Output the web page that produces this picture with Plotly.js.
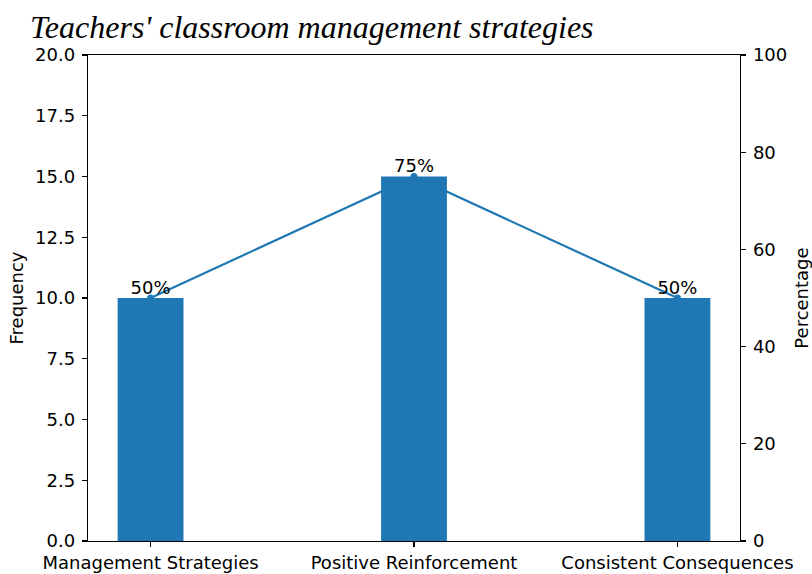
<!DOCTYPE html>
<html>
<head>
<meta charset="utf-8">
<script src="https://cdn.plot.ly/plotly-3.0.1.min.js"></script>
<style>html,body{margin:0;padding:0;background:#fff;}#chart{width:812px;height:574px;}</style>
</head>
<body>
<div id="chart"></div>
<script>
const categories = ["Management Strategies", "Positive Reinforcement", "Consistent Consequences"];
const frequency = [10, 15, 10];
const percentage = [50, 75, 50];
const percentLabels = ["50%", "75%", "50%"];
const freqTicks = [0, 2.5, 5, 7.5, 10, 12.5, 15, 17.5, 20];
const pctTicks = [0, 20, 40, 60, 80, 100];

const blue = "#1f77b4";
const font = {family: "DejaVu Sans", size: 18, color: "#000"};

const lineTrace = {
  type: "scatter",
  mode: "lines+markers",
  x: categories,
  y: percentage,
  xaxis: "x",
  yaxis: "y",
  line: {color: blue, width: 2.2},
  marker: {color: blue, size: 7},
  cliponaxis: false,
  hoverinfo: "skip"
};

const textTrace = {
  type: "scatter",
  mode: "text",
  x: categories,
  y: percentage,
  xaxis: "x",
  yaxis: "y",
  text: percentLabels,
  textposition: "top center",
  textfont: {family: "DejaVu Sans", size: 18, color: "#000"},
  cliponaxis: false,
  hoverinfo: "skip"
};

const barTrace = {
  type: "bar",
  x: categories,
  y: frequency,
  xaxis: "x",
  yaxis: "y2",
  width: 0.25,
  marker: {color: blue, line: {width: 0}},
  hoverinfo: "skip"
};

const axisCommon = {
  showline: true,
  linecolor: "#000",
  linewidth: 1.3,
  ticks: "outside",
  ticklen: 5,
  tickwidth: 1.3,
  tickcolor: "#000",
  showgrid: false,
  zeroline: false,
  tickfont: font
};

const layout = {
  width: 812,
  height: 574,
  margin: {l: 88, r: 72, t: 55, b: 33},
  paper_bgcolor: "#fff",
  plot_bgcolor: "#fff",
  showlegend: false,
  font: font,
  title: {
    text: "Teachers' classroom management strategies",
    font: {family: "Liberation Serif", size: 32, color: "#000", style: "italic"},
    x: 30 / 812,
    xanchor: "left",
    xref: "container",
    yref: "container",
    y: 1 - 27 / 574,
    yanchor: "middle"
  },
  xaxis: Object.assign({}, axisCommon, {
    type: "category",
    categoryarray: categories,
    range: [-0.2375, 2.2375],
    mirror: true
  }),
  yaxis: Object.assign({}, axisCommon, {
    side: "right",
    range: [0, 100],
    tickvals: pctTicks,
    ticktext: pctTicks.map(String),
    ticklabelstandoff: 3,
    title: {text: "Percentage", font: font, standoff: 12}
  }),
  yaxis2: Object.assign({}, axisCommon, {
    overlaying: "y",
    side: "left",
    range: [0, 20],
    tickvals: freqTicks,
    ticktext: freqTicks.map(v => v.toFixed(1)),
    ticklabelstandoff: 3,
    title: {text: "Frequency", font: font, standoff: 6}
  })
};

Plotly.newPlot("chart", [lineTrace, textTrace, barTrace], layout, {staticPlot: true, displayModeBar: false});
</script>
</body>
</html>
